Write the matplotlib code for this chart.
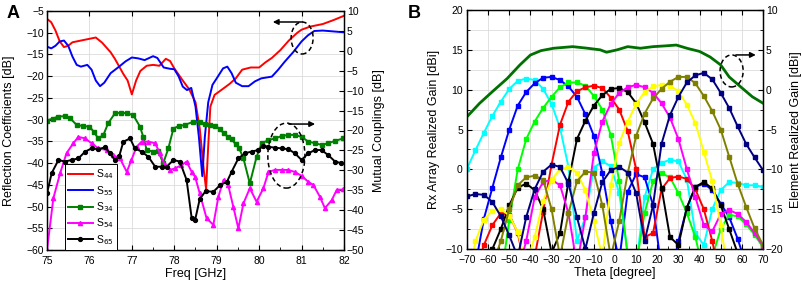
import matplotlib
matplotlib.use("Agg")
import matplotlib.pyplot as plt
from matplotlib.patches import Ellipse
from matplotlib.ticker import MultipleLocator
from matplotlib.lines import Line2D

plt.rcParams['font.family'] = ['Liberation Sans', 'DejaVu Sans']

# ---------------- panel A data (Freq in GHz) ----------------
f_s44 = [75.0, 75.1, 75.2, 75.3, 75.4, 75.5, 75.6, 75.8, 76.0, 76.15, 76.3, 76.5, 76.6,
         76.8, 76.9, 77.0, 77.1, 77.2, 77.35, 77.5, 77.65, 77.8, 77.9, 78.0, 78.2, 78.35,
         78.5, 78.6, 78.7, 78.75, 78.8, 78.85, 78.95, 79.05, 79.3, 79.45, 79.6, 79.8, 80.0,
         80.15, 80.3, 80.5, 80.7, 80.9, 81.0, 81.2, 81.5, 81.75, 82.0]
s44 = [-6.8, -7.6, -9.5, -12.0, -13.3, -13.0, -12.2, -11.8, -11.4, -11.1, -12.3, -14.5, -16.0,
       -19.5, -21.0, -24.2, -21.0, -18.8, -17.6, -17.4, -17.6, -16.0, -16.5, -18.2, -21.0, -23.0,
       -26.0, -32.0, -42.0, -46.0, -36.0, -27.0, -24.3, -23.6, -21.8, -20.5, -18.5, -18.0, -18.0,
       -16.8, -15.8, -14.0, -11.8, -10.0, -9.3, -8.6, -8.0, -7.1, -6.1]

f_s55 = [75.0, 75.1, 75.2, 75.3, 75.4, 75.5, 75.6, 75.7, 75.8, 75.95, 76.05, 76.15, 76.25,
         76.35, 76.5, 76.7, 76.85, 77.0, 77.15, 77.3, 77.5, 77.6, 77.75, 77.9, 78.0, 78.1,
         78.2, 78.3, 78.4, 78.5, 78.58, 78.66, 78.72, 78.8, 78.9, 79.0, 79.15, 79.25, 79.35,
         79.45, 79.6, 79.75, 79.9, 80.05, 80.3, 80.45, 80.6, 80.8, 81.0, 81.15, 81.3, 81.5,
         81.75, 82.0]
s55 = [-13.2, -13.6, -13.0, -12.0, -11.8, -13.0, -15.5, -17.4, -17.8, -17.4, -18.5, -21.0, -22.3,
       -21.5, -19.3, -17.8, -16.6, -15.7, -15.9, -16.3, -15.4, -15.8, -18.0, -18.3, -18.4, -20.0,
       -22.4, -23.2, -22.7, -27.0, -34.0, -43.0, -34.0, -26.0, -22.0, -20.5, -18.2, -17.8, -19.3,
       -21.5, -22.3, -22.3, -21.2, -20.5, -20.1, -18.5, -16.7, -14.5, -12.0, -10.6, -9.6, -9.5,
       -9.7, -9.9]

f_s34 = [75.0, 75.13, 75.27, 75.42, 75.54, 75.7, 75.85, 76.0, 76.1, 76.21, 76.33, 76.44, 76.6,
         76.75, 76.88, 77.03, 77.19, 77.27, 77.35, 77.5, 77.62, 77.74, 77.86, 77.98, 78.1,
         78.25, 78.45, 78.6, 78.72, 78.85, 78.96, 79.08, 79.16, 79.27, 79.35, 79.45, 79.53,
         79.63, 79.78, 79.94, 80.06, 80.22, 80.37, 80.53, 80.69, 80.84, 81.0, 81.16, 81.32,
         81.47, 81.63, 81.79, 81.98]
s34 = [-17.5, -17.0, -16.5, -16.4, -16.9, -18.6, -18.9, -19.0, -20.3, -22.0, -21.1, -18.2, -15.7,
       -15.5, -15.7, -16.1, -19.0, -21.6, -24.9, -25.3, -25.2, -28.2, -24.5, -19.5, -18.9,
       -18.6, -17.8, -17.8, -18.4, -18.7, -18.9, -19.6, -20.7, -21.6, -22.2, -23.5, -24.5,
       -27.0, -33.3, -26.6, -23.2, -22.4, -22.0, -21.4, -21.1, -21.1, -21.6, -22.8, -23.2,
       -23.6, -23.2, -22.6, -22.0]

f_s54 = [75.0, 75.15, 75.31, 75.46, 75.62, 75.74, 75.9, 76.05, 76.21, 76.41, 76.56, 76.72, 76.88,
         76.99, 77.11, 77.23, 77.39, 77.55, 77.66, 77.78, 77.9, 78.02, 78.17, 78.29, 78.41,
         78.49, 78.6, 78.76, 78.92, 79.04, 79.16, 79.27, 79.39, 79.51, 79.63, 79.78, 79.94,
         80.1, 80.22, 80.37, 80.53, 80.69, 80.84, 81.0, 81.16, 81.28, 81.43, 81.55, 81.71,
         81.83, 81.98]
s54 = [-50.0, -37.0, -30.7, -25.7, -23.2, -21.6, -22.0, -23.2, -24.5, -24.9, -26.2, -27.0, -30.4,
       -27.4, -24.1, -22.8, -22.8, -23.2, -25.7, -28.7, -29.9, -29.5, -28.7, -27.8, -30.4,
       -31.6, -35.8, -42.0, -43.7, -36.6, -32.4, -33.7, -39.1, -44.6, -38.3, -34.5, -37.9,
       -34.5, -30.4, -29.9, -29.9, -29.9, -30.4, -31.4, -32.9, -33.7, -36.6, -39.5, -37.5,
       -34.9, -34.8]

f_s65 = [75.0, 75.11, 75.27, 75.42, 75.58, 75.74, 75.9, 76.05, 76.21, 76.37, 76.48, 76.6, 76.7,
         76.8, 76.96, 77.07, 77.23, 77.39, 77.55, 77.7, 77.82, 77.98, 78.13, 78.29, 78.41,
         78.49, 78.6, 78.74, 78.92, 79.08, 79.24, 79.35, 79.51, 79.67, 79.82, 79.98, 80.1,
         80.22, 80.37, 80.53, 80.69, 80.84, 81.0, 81.16, 81.32, 81.47, 81.63, 81.79, 81.94]
s65 = [-35.8, -30.7, -27.4, -27.8, -27.4, -27.0, -25.3, -24.5, -24.7, -24.2, -25.7, -27.4, -26.5,
       -22.8, -22.0, -24.5, -25.3, -26.6, -29.1, -29.1, -29.1, -27.4, -27.8, -32.4, -42.0,
       -42.5, -37.2, -35.2, -35.4, -33.7, -32.9, -30.4, -27.0, -25.7, -25.3, -24.9, -23.8,
       -24.1, -24.3, -24.5, -24.7, -25.7, -27.4, -25.7, -24.9, -24.9, -26.2, -27.8, -28.2]

# ---------------- panel B data (Theta in degree) ----------------
theta = [-70, -66, -62, -58, -54, -50, -46, -42, -38, -34, -30, -26, -22, -18, -14, -10, -6, -2,
         2, 6, 10, 14, 18, 22, 26, 30, 34, 38, 42, 46, 50, 54, 58, 62, 66, 70]

beam_cyan = [0.1, 2.4, 4.6, 6.7, 8.5, 10.1, 11.1, 11.4, 11.2, 10.1, 8.2, 5.2, 0.3, -9.0, -6.0, 0.2,
             1.0, 0.4, -3.0, -10.5, -12.0, -3.5, 0.0, 0.8, 1.2, 1.0, -1.3, -8.0, -9.5, -5.0,
             -2.6, -1.6, -1.7, -2.0, -2.0, -2.2]
beam_blue = [-20, -12, -6.2, -2.3, 1.5, 5.0, 8.0, 9.7, 10.8, 11.5, 11.6, 11.2, 10.4, 9.1, 6.9, 4.2,
             -0.5, -6.5, -11.5, -2.8, -0.6, -1.0, -4.5, -12.5, -14, -9.0, -4.8, -2.2, -1.8, -2.6,
             -4.3, -6.0, -8.7, -12, -14, -16]
beam_lime = [-20, -20, -18, -16, -14, -6.3, 0.0, 3.8, 6.0, 7.7, 9.1, 10.3, 10.9, 10.9, 10.5, 9.2,
             7.5, 4.3, -1.5, -11, -12, -5.5, -1.5, -0.5, -1.0, -3.0, -5.5, -8.5, -13, -11, -7.5,
             -5.7, -5.9, -6.9, -8.2, -9.8]
beam_red = [-18, -13, -9.5, -7.0, -5.5, -5.7, -8.0, -13, -11, -5.3, 0.6, 5.6, 8.5, 9.8, 10.3, 10.5,
            10.2, 9.0, 7.5, 4.8, 0.0, -8.5, -8.0, -2.5, -1.1, -0.9, -1.2, -2.5, -5.0, -9.0, -14,
            -16, -18, -18, -18, -18]
beam_black = [-16, -14, -12.5, -10, -7.5, -4.5, -2.3, -1.8, -2.6, -5.0, -10.5, -8.0, -1.5, 3.8, 6.1,
              8.0, 9.3, 10.1, 10.2, 9.7, 8.3, 5.9, 3.2, -2.3, -8.5, -9.5, -4.8, -2.2, -1.6, -2.4,
              -4.5, -7.5, -10.5, -13, -15, -16]
beam_magenta = [-18, -17, -16, -15, -14, -13, -13, -9.0, -3.5, -1.6, -1.3, -2.0, -5.5, -12, -6.0,
                2.0, 6.0, 8.2, 9.6, 10.3, 10.6, 10.3, 9.6, 8.3, 6.5, 3.8, 0.0, -3.5, -7.0, -7.8,
                -5.6, -5.1, -5.6, -6.6, -8.0, -9.6]
beam_yellow = [-15, -9.0, -6.3, -5.2, -5.0, -5.8, -7.9, -12, -8.5, -4.0, -1.3, 0.0, 0.3, -0.4, -2.6,
               -6.5, -11, -2.0, 3.3, 6.0, 8.2, 9.7, 10.4, 10.6, 10.5, 9.8, 8.1, 5.8, 2.2, -1.5,
               -7.0, -14, -16, -17, -18, -18]
beam_olive = [-18, -16, -14, -12, -9.0, -5.0, -2.0, -1.0, -0.8, -1.3, -5.0, -11, -5.5, -1.5, -0.3,
              -0.4, -4.5, -11, -6.5, -0.5, 4.2, 7.0, 8.9, 10.1, 11.0, 11.6, 11.6, 10.8, 9.2, 7.3,
              5.0, 1.6, -1.8, -4.7, -7.4, -9.5]
beam_navy = [-3.4, -3.1, -3.2, -4.1, -5.9, -8.3, -11, -6.0, -2.5, -0.3, 0.6, 0.3, -1.8, -6.0, -10,
             -5.5, -1.6, -0.1, 0.3, -0.4, -3.0, -9.0, -4.5, 3.2, 6.8, 9.1, 10.9, 11.8, 12.1, 11.3,
             9.6, 7.7, 5.4, 3.2, 1.5, -0.1]

elem_theta = [-70, -64, -58, -51, -45, -40, -35, -29, -20, -13, -7, -4, 1, 6, 12, 18, 24, 29, 34,
              40, 45, 50, 54, 61, 65, 70]
elem_gain = [-3.4, -1.7, -0.25, 1.4, 3.1, 4.35, 4.9, 5.2, 5.4, 5.2, 5.0, 4.7, 5.0, 5.4, 5.2, 5.4,
             5.5, 5.6, 5.2, 4.8, 4.1, 3.1, 1.6, 0.0, -0.9, -1.7]

beams = [beam_cyan, beam_blue, beam_lime, beam_red, beam_black,
         beam_magenta, beam_yellow, beam_olive, beam_navy]
beam_colors = ['#00ffff', '#0000ff', '#00ff00', '#ff0000', '#000000',
               '#ff00ff', '#ffff00', '#808000', '#000080']

TICK_FS = 7.5
LABEL_FS = 9
GRID_C = '#dcdcdc'


def style_axes(ax):
    ax.tick_params(direction='in', which='both', labelsize=TICK_FS, pad=2)
    ax.tick_params(axis='x', pad=4)
    ax.tick_params(which='major', length=3.5)
    ax.tick_params(which='minor', length=2)
    for s in ax.spines.values():
        s.set_linewidth(0.9)


def dashed_ellipse(ax, cx, cy, w, h):
    ax.add_patch(Ellipse((cx, cy), w, h, transform=ax.transAxes, fill=False,
                         ec='k', lw=1.1, ls=(0, (3, 2)), zorder=10))


def arrow(ax, start, end):
    ax.annotate('', xy=end, xytext=start, xycoords='axes fraction',
                textcoords='axes fraction',
                arrowprops=dict(arrowstyle='-|>', color='k', lw=1.1, mutation_scale=8),
                zorder=10)


fig = plt.figure(figsize=(8.03, 2.89), dpi=100)

# ================= Panel A =================
axA = fig.add_axes([47 / 803, 1 - 250 / 289, 297 / 803, 239 / 289])
axA2 = axA.twinx()

axA.plot(f_s44, s44, color='#ff0000', lw=1.4)
axA.plot(f_s55, s55, color='#0000ff', lw=1.4)
axA2.plot(f_s34, s34, color='#008000', lw=1.4, marker='s', ms=2.8)
axA2.plot(f_s54, s54, color='#ff00ff', lw=1.4, marker='^', ms=3.0)
axA2.plot(f_s65, s65, color='#000000', lw=1.4, marker='o', ms=2.8)

axA.set_xlim(75, 82)
axA.set_ylim(-60, -5)
axA2.set_ylim(-50, 10)
axA.xaxis.set_major_locator(MultipleLocator(1))
axA.xaxis.set_minor_locator(MultipleLocator(0.5))
axA.yaxis.set_major_locator(MultipleLocator(5))
axA2.yaxis.set_major_locator(MultipleLocator(5))
axA.grid(True, which='major', color=GRID_C, lw=0.6)
axA.set_axisbelow(True)
style_axes(axA)
style_axes(axA2)
axA.tick_params(top=True)

axA.set_xlabel('Freq [GHz]', fontsize=LABEL_FS, labelpad=2)
axA.set_ylabel('Reflection Coefficients [dB]', fontsize=LABEL_FS)
axA2.set_ylabel('Mutual Couplings [dB]', fontsize=LABEL_FS)
axA.yaxis.set_label_coords(-0.108, 0.5)
axA2.yaxis.set_label_coords(1.098, 0.5)

handles = [Line2D([], [], color='#ff0000', lw=1.4),
           Line2D([], [], color='#0000ff', lw=1.4),
           Line2D([], [], color='#008000', lw=1.4, marker='s', ms=2.8),
           Line2D([], [], color='#ff00ff', lw=1.4, marker='^', ms=3.0),
           Line2D([], [], color='#000000', lw=1.4, marker='o', ms=2.8)]
labels = ['S$_{44}$', 'S$_{55}$', 'S$_{34}$', 'S$_{54}$', 'S$_{65}$']
leg = axA2.legend(handles, labels, loc='lower left', bbox_to_anchor=(0.06, 0.0),
                  fontsize=7.5, handlelength=2.4, handletextpad=0.3, labelspacing=0.25,
                  borderpad=0.3, borderaxespad=0.0, fancybox=False, framealpha=1)
leg.get_frame().set_edgecolor('k')
leg.get_frame().set_linewidth(0.7)

dashed_ellipse(axA2, 0.859, 0.887, 0.074, 0.134)
arrow(axA2, (0.869, 0.954), (0.751, 0.954))
dashed_ellipse(axA2, 0.806, 0.395, 0.125, 0.272)
arrow(axA2, (0.805, 0.527), (0.912, 0.527))

# ================= Panel B =================
axB = fig.add_axes([467 / 803, 1 - 249 / 289, 296 / 803, 239 / 289])
axB2 = axB.twinx()

for vals, c in zip(beams, beam_colors):
    axB.plot(theta, vals, color=c, lw=1.4, marker='s', ms=3.0)
axB2.plot(elem_theta, elem_gain, color='#007000', lw=2.0)

axB.set_xlim(-70, 70)
axB.set_ylim(-10, 20)
axB2.set_ylim(-20, 10)
axB.xaxis.set_major_locator(MultipleLocator(10))
axB.xaxis.set_minor_locator(MultipleLocator(5))
axB.yaxis.set_major_locator(MultipleLocator(5))
axB.yaxis.set_minor_locator(MultipleLocator(2.5))
axB2.yaxis.set_major_locator(MultipleLocator(5))
axB2.yaxis.set_minor_locator(MultipleLocator(2.5))
axB.grid(True, axis='x', which='major', color=GRID_C, lw=0.6)
axB.grid(True, axis='y', which='both', color=GRID_C, lw=0.6)
axB.set_axisbelow(True)
style_axes(axB)
style_axes(axB2)
axB.tick_params(top=True)
axB.tick_params(axis='y', pad=3)

axB.set_xlabel('Theta [degree]', fontsize=LABEL_FS, labelpad=2)
axB.set_ylabel('Rx Array Realized Gain [dBi]', fontsize=LABEL_FS)
axB2.set_ylabel('Element Realized Gain [dBi]', fontsize=LABEL_FS)
axB.yaxis.set_label_coords(-0.091, 0.5)
axB2.yaxis.set_label_coords(1.091, 0.5)

dashed_ellipse(axB2, 0.894, 0.745, 0.078, 0.134)
arrow(axB2, (0.899, 0.812), (0.985, 0.812))

fig.text(13 / 803, 1 - 13 / 289, 'A', fontsize=13, fontweight='bold', ha='center', va='center')
fig.text(414 / 803, 1 - 13 / 289, 'B', fontsize=13, fontweight='bold', ha='center', va='center')

fig.savefig('out.png', dpi=100)
